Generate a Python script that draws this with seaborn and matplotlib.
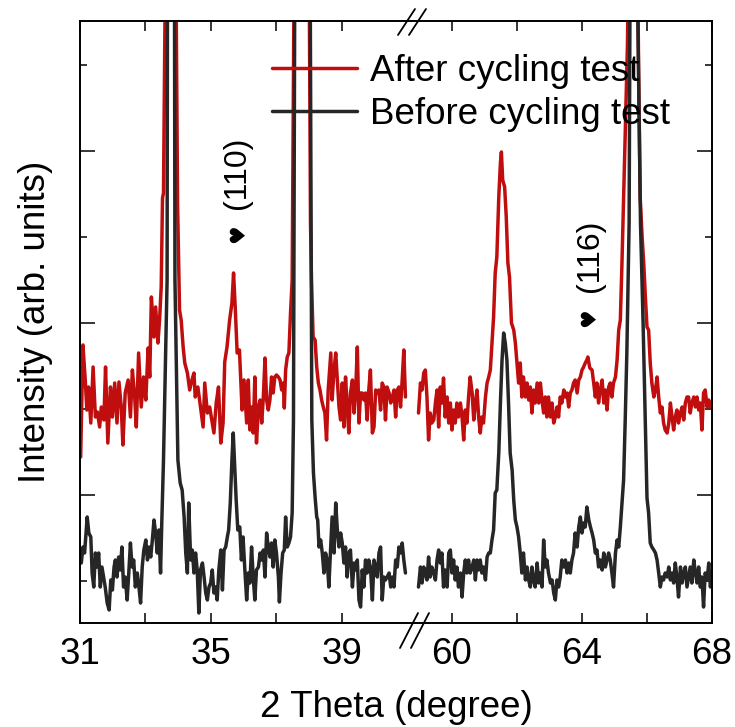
import numpy as np
import pandas as pd
import matplotlib
matplotlib.use("Agg")
import matplotlib.pyplot as plt
from matplotlib.lines import Line2D
from matplotlib.ticker import FixedLocator, NullFormatter
import seaborn as sns

# ---------------- data (2 theta in degree, intensity in arb. units) -------------
series_names = ["After cycling test", "Before cycling test"]
series_colors = ["#c00d0d", "#262626"]

# left segment (31 - 41 deg)
after_tt_left = [31.02, 31.09, 31.16, 31.21, 31.26, 31.33, 31.40, 31.47, 31.53, 31.60, 31.65, 31.73, 31.78, 31.85, 31.93, 31.99,
                 32.06, 32.13, 32.19, 32.26, 32.31, 32.38, 32.47, 32.54, 32.60, 32.67, 32.72, 32.79, 32.87, 32.94, 33.01, 33.08,
                 33.13, 33.18, 33.26, 33.31, 33.38, 33.43, 33.48, 33.52, 33.55, 33.62, 33.70, 33.77, 33.84, 33.92, 33.98, 34.04,
                 34.09, 34.15, 34.20, 34.28, 34.35, 34.42, 34.48, 34.52, 34.60, 34.68, 34.76, 34.81, 34.89, 34.96, 35.01, 35.09,
                 35.16, 35.23, 35.30, 35.37, 35.42, 35.49, 35.57, 35.64, 35.69, 35.74, 35.80, 35.87, 35.95, 36.01, 36.09, 36.14,
                 36.19, 36.24, 36.29, 36.34, 36.39, 36.45, 36.50, 36.55, 36.60, 36.65, 36.70, 36.75, 36.80, 36.85, 36.90, 36.95,
                 37.00, 37.06, 37.11, 37.16, 37.21, 37.24, 37.28, 37.33, 37.38, 37.43, 37.48, 37.50, 37.54, 37.65, 37.80, 37.95,
                 38.00, 38.04, 38.07, 38.12, 38.18, 38.23, 38.28, 38.33, 38.38, 38.43, 38.48, 38.53, 38.58, 38.63, 38.66, 38.70,
                 38.76, 38.81, 38.86, 38.91, 38.96, 39.01, 39.06, 39.11, 39.16, 39.21, 39.26, 39.32, 39.37, 39.42, 39.47, 39.52,
                 39.57, 39.62, 39.67, 39.72, 39.77, 39.82, 39.87, 39.93, 39.98, 40.03, 40.08, 40.13, 40.18, 40.23, 40.28, 40.33,
                 40.38, 40.44, 40.49, 40.54, 40.59, 40.64, 40.69, 40.74, 40.79, 40.84, 40.89, 40.94]
after_int_left = [166, 278, 243, 213, 236, 200, 256, 206, 211, 196, 216, 203, 256, 180, 236, 206,
                  240, 200, 241, 216, 178, 230, 243, 206, 253, 226, 196, 270, 216, 246, 223, 275,
                  246, 326, 286, 316, 280, 303, 336, 425, 430, 700, 1300, 1500, 1300, 700, 420, 313,
                  303, 276, 260, 250, 233, 243, 250, 226, 236, 216, 196, 240, 210, 216, 206, 190,
                  220, 236, 180, 200, 261, 276, 303, 320, 350, 316, 270, 273, 213, 243, 200, 243,
                  193, 216, 190, 246, 180, 216, 223, 200, 226, 265, 223, 213, 223, 246, 230, 246,
                  248, 246, 243, 233, 240, 215, 253, 266, 270, 310, 343, 450, 650, 1500, 2000, 1500,
                  650, 400, 343, 286, 283, 256, 240, 233, 223, 216, 210, 183, 233, 256, 270, 223,
                  253, 270, 243, 216, 203, 240, 196, 246, 216, 190, 230, 243, 210, 233, 276, 200,
                  230, 230, 223, 230, 203, 233, 253, 190, 196, 233, 230, 233, 213, 240, 236, 203,
                  236, 230, 220, 226, 233, 206, 233, 236, 216, 243, 273, 226]

before_tt_left = [31.04, 31.09, 31.14, 31.19, 31.22, 31.27, 31.33, 31.37, 31.42, 31.47, 31.52, 31.57, 31.62, 31.67, 31.72, 31.77,
                  31.83, 31.89, 31.94, 31.99, 32.04, 32.08, 32.13, 32.18, 32.23, 32.28, 32.33, 32.38, 32.44, 32.49, 32.54, 32.59,
                  32.64, 32.69, 32.75, 32.80, 32.85, 32.90, 32.95, 33.01, 33.06, 33.11, 33.16, 33.21, 33.26, 33.31, 33.36, 33.41,
                  33.46, 33.50, 33.55, 33.66, 33.77, 33.90, 33.99, 34.06, 34.12, 34.18, 34.23, 34.28, 34.32, 34.38, 34.43, 34.48,
                  34.53, 34.58, 34.63, 34.68, 34.74, 34.79, 34.84, 34.89, 34.94, 34.99, 35.04, 35.09, 35.14, 35.19, 35.24, 35.30,
                  35.35, 35.40, 35.45, 35.50, 35.54, 35.59, 35.64, 35.68, 35.72, 35.77, 35.82, 35.88, 35.93, 35.98, 36.03, 36.09,
                  36.14, 36.19, 36.24, 36.29, 36.34, 36.39, 36.45, 36.50, 36.55, 36.60, 36.65, 36.70, 36.75, 36.80, 36.85, 36.90,
                  36.95, 37.00, 37.06, 37.09, 37.14, 37.19, 37.24, 37.28, 37.33, 37.38, 37.43, 37.48, 37.52, 37.56, 37.64, 37.80,
                  37.96, 38.03, 38.08, 38.13, 38.18, 38.23, 38.26, 38.30, 38.35, 38.40, 38.45, 38.50, 38.55, 38.60, 38.65, 38.70,
                  38.76, 38.81, 38.86, 38.91, 38.96, 39.01, 39.06, 39.11, 39.16, 39.21, 39.26, 39.32, 39.37, 39.42, 39.47, 39.52,
                  39.57, 39.62, 39.67, 39.72, 39.77, 39.82, 39.87, 39.93, 39.98, 40.03, 40.08, 40.13, 40.18, 40.23, 40.28, 40.33,
                  40.38, 40.44, 40.49, 40.54, 40.59, 40.64, 40.69, 40.74, 40.79, 40.84, 40.89, 40.94]
before_int_left = [60, 76, 70, 93, 106, 90, 86, 50, 36, 70, 56, 70, 36, 56, 46, 36,
                   20, 13, 43, 33, 56, 63, 46, 66, 53, 76, 36, 46, 23, 50, 80, 56,
                   63, 36, 50, 36, 20, 56, 73, 83, 63, 76, 66, 83, 103, 90, 70, 93,
                   50, 103, 163, 343, 3000, 343, 163, 140, 133, 106, 70, 50, 120, 63, 73, 50,
                   70, 53, 10, 53, 60, 46, 30, 23, 36, 40, 53, 30, 36, 23, 53, 73,
                   33, 73, 76, 86, 93, 120, 163, 190, 160, 123, 93, 96, 63, 86, 56, 23,
                   50, 40, 76, 46, 23, 53, 56, 70, 63, 73, 46, 90, 76, 66, 80, 56,
                   83, 70, 46, 21, 50, 70, 73, 106, 76, 80, 86, 110, 203, 650, 1500, 2500,
                   1500, 650, 203, 150, 126, 106, 103, 76, 83, 70, 50, 70, 63, 36, 70, 106,
                   70, 120, 93, 76, 90, 80, 60, 76, 46, 70, 73, 36, 60, 53, 63, 23,
                   16, 53, 36, 63, 50, 63, 56, 23, 63, 56, 46, 70, 76, 23, 46, 43,
                   46, 50, 36, 46, 36, 63, 56, 76, 70, 80, 63, 50]

# right segment (59 - 68 deg)
after_tt_right = [58.97, 59.03, 59.08, 59.13, 59.18, 59.23, 59.28, 59.33, 59.38, 59.44, 59.49, 59.54, 59.59, 59.64, 59.69, 59.74,
                  59.79, 59.85, 59.90, 59.95, 60.00, 60.05, 60.10, 60.15, 60.20, 60.26, 60.31, 60.36, 60.41, 60.46, 60.51, 60.56,
                  60.62, 60.67, 60.72, 60.77, 60.82, 60.87, 60.92, 60.97, 61.03, 61.08, 61.13, 61.18, 61.23, 61.28, 61.33, 61.38,
                  61.44, 61.49, 61.52, 61.56, 61.62, 61.67, 61.72, 61.77, 61.83, 61.90, 61.95, 62.00, 62.05, 62.10, 62.15, 62.20,
                  62.26, 62.31, 62.36, 62.41, 62.46, 62.51, 62.56, 62.62, 62.67, 62.72, 62.77, 62.82, 62.87, 62.92, 62.97, 63.03,
                  63.08, 63.13, 63.18, 63.23, 63.28, 63.33, 63.38, 63.44, 63.49, 63.54, 63.59, 63.64, 63.69, 63.74, 63.79, 63.85,
                  63.90, 63.95, 64.00, 64.05, 64.10, 64.15, 64.18, 64.24, 64.31, 64.36, 64.41, 64.46, 64.51, 64.56, 64.62, 64.67,
                  64.72, 64.77, 64.82, 64.87, 64.92, 64.97, 65.03, 65.08, 65.13, 65.18, 65.23, 65.28, 65.33, 65.40, 65.44, 65.57,
                  65.70, 65.74, 65.79, 65.85, 65.90, 65.95, 66.00, 66.05, 66.10, 66.15, 66.21, 66.26, 66.31, 66.36, 66.41, 66.46,
                  66.51, 66.56, 66.62, 66.67, 66.72, 66.77, 66.82, 66.87, 66.92, 66.97, 67.03, 67.08, 67.13, 67.18, 67.23, 67.28,
                  67.33, 67.38, 67.44, 67.49, 67.54, 67.59, 67.64, 67.69, 67.74, 67.79, 67.85, 67.90, 67.95, 68.00]
after_int_right = [210, 240, 233, 250, 253, 226, 183, 210, 200, 203, 220, 233, 196, 236, 220, 245,
                   206, 226, 200, 220, 193, 213, 200, 220, 206, 220, 206, 183, 213, 200, 226, 246,
                   230, 203, 220, 233, 206, 190, 206, 200, 226, 240, 246, 253, 280, 306, 350, 366,
                   426, 460, 471, 443, 436, 406, 360, 346, 300, 293, 280, 260, 240, 260, 226, 246,
                   226, 240, 223, 236, 210, 233, 220, 240, 220, 240, 223, 210, 226, 206, 226, 206,
                   220, 200, 206, 216, 206, 226, 220, 233, 226, 230, 216, 230, 233, 240, 243, 230,
                   243, 246, 253, 256, 260, 263, 266, 255, 253, 240, 226, 240, 220, 233, 243, 220,
                   233, 213, 236, 240, 226, 240, 246, 263, 293, 303, 360, 426, 493, 580, 700, 1800,
                   700, 560, 426, 386, 360, 326, 296, 293, 260, 240, 226, 233, 246, 226, 210, 216,
                   200, 193, 190, 200, 220, 206, 193, 206, 213, 200, 210, 216, 203, 220, 226, 226,
                   210, 220, 226, 216, 226, 213, 220, 193, 230, 233, 216, 223, 216, 220]

before_tt_right = [58.97, 59.03, 59.08, 59.13, 59.18, 59.23, 59.28, 59.33, 59.38, 59.44, 59.49, 59.54, 59.59, 59.64, 59.69, 59.74,
                   59.79, 59.85, 59.90, 59.95, 60.00, 60.05, 60.10, 60.15, 60.20, 60.26, 60.31, 60.36, 60.41, 60.46, 60.51, 60.56,
                   60.62, 60.67, 60.72, 60.77, 60.82, 60.87, 60.92, 60.97, 61.03, 61.08, 61.13, 61.18, 61.23, 61.28, 61.33, 61.38,
                   61.44, 61.49, 61.54, 61.59, 61.64, 61.69, 61.74, 61.79, 61.85, 61.90, 61.95, 62.00, 62.05, 62.10, 62.15, 62.20,
                   62.26, 62.31, 62.36, 62.41, 62.46, 62.51, 62.56, 62.62, 62.67, 62.72, 62.77, 62.82, 62.87, 62.92, 62.97, 63.03,
                   63.08, 63.13, 63.18, 63.23, 63.28, 63.33, 63.38, 63.44, 63.49, 63.54, 63.59, 63.64, 63.69, 63.74, 63.79, 63.85,
                   63.90, 63.95, 64.00, 64.05, 64.10, 64.15, 64.21, 64.26, 64.31, 64.36, 64.41, 64.46, 64.51, 64.56, 64.62, 64.67,
                   64.72, 64.77, 64.82, 64.87, 64.92, 64.97, 65.03, 65.08, 65.13, 65.18, 65.23, 65.28, 65.33, 65.38, 65.45, 65.48,
                   65.58, 65.70, 65.80, 65.88, 65.95, 66.00, 66.05, 66.10, 66.15, 66.21, 66.26, 66.31, 66.36, 66.41, 66.46, 66.51,
                   66.56, 66.62, 66.67, 66.72, 66.77, 66.82, 66.87, 66.92, 66.97, 67.03, 67.08, 67.13, 67.18, 67.23, 67.28, 67.33,
                   67.38, 67.44, 67.49, 67.54, 67.59, 67.64, 67.69, 67.74, 67.79, 67.85, 67.90, 67.95, 68.00]
before_int_right = [36, 56, 40, 56, 50, 43, 66, 46, 56, 50, 43, 63, 73, 60, 70, 36,
                    53, 36, 70, 73, 50, 63, 43, 56, 36, 50, 26, 50, 63, 50, 63, 50,
                    56, 63, 43, 63, 53, 63, 50, 56, 43, 66, 70, 70, 83, 93, 130, 133,
                    170, 220, 263, 290, 280, 263, 220, 170, 153, 123, 103, 96, 86, 70, 50, 70,
                    43, 56, 43, 36, 56, 43, 36, 60, 40, 50, 36, 83, 56, 63, 50, 40,
                    43, 30, 23, 43, 36, 46, 63, 56, 63, 50, 60, 50, 63, 70, 90, 76,
                    96, 106, 90, 100, 96, 116, 103, 96, 90, 83, 70, 73, 56, 63, 53, 70,
                    56, 63, 70, 63, 50, 36, 70, 83, 76, 96, 120, 143, 203, 270, 400, 650,
                    2500, 650, 400, 300, 200, 125, 110, 80, 76, 73, 70, 63, 50, 36, 46, 43,
                    50, 46, 56, 43, 50, 40, 60, 46, 26, 56, 40, 50, 56, 36, 46, 56,
                    40, 63, 50, 40, 56, 36, 46, 16, 50, 43, 60, 36, 46]

# annotations: (label, 2theta, intensity)
peak_labels = ["(110)", "(116)"]
peak_label_tt = [35.79, 64.25]
peak_label_int = [450, 367]
heart_tt = [35.82, 64.22]
heart_int = [389, 305]

x_major_left, x_minor_left = [31, 35, 39], [33, 37]
x_major_right, x_minor_right = [60, 64, 68], [62, 66]

# ---------------- figure ----------------
sns.set_theme(style="ticks")
plt.rcParams["font.family"] = ["Liberation Sans", "DejaVu Sans"]
plt.rcParams["text.color"] = "black"
plt.rcParams["axes.labelcolor"] = "black"
plt.rcParams["xtick.color"] = "black"
plt.rcParams["ytick.color"] = "black"
plt.rcParams["axes.linewidth"] = 1.4

W, H = 735, 727
fig = plt.figure(figsize=(W / 100, H / 100), dpi=100)
fig.patch.set_facecolor("white")
ax_l = fig.add_axes([80 / W, 104 / H, 332 / W, 602 / H])
ax_r = fig.add_axes([412 / W, 104 / H, 300 / W, 602 / H])

def draw(ax, tt_a, in_a, tt_b, in_b):
    da = pd.DataFrame({"tt": tt_a, "I": in_a})
    db = pd.DataFrame({"tt": tt_b, "I": in_b})
    sns.lineplot(data=da, x="tt", y="I", ax=ax, color=series_colors[0], linewidth=2.5,
                 estimator=None, sort=False, label=series_names[0], legend=False)
    sns.lineplot(data=db, x="tt", y="I", ax=ax, color=series_colors[1], linewidth=2.5,
                 estimator=None, sort=False, label=series_names[1], legend=False)

draw(ax_l, after_tt_left, after_int_left, before_tt_left, before_int_left)
draw(ax_r, after_tt_right, after_int_right, before_tt_right, before_int_right)

ax_l.set_xlim(31, 41.14)
ax_r.set_xlim(58.77, 68)
for ax in (ax_l, ax_r):
    ax.set_ylim(0, 602)
    ax.set_xlabel("")
    ax.set_ylabel("")
    ax.yaxis.set_major_locator(FixedLocator([128, 300, 472]))
    ax.yaxis.set_minor_locator(FixedLocator([42, 214, 386, 558]))
    ax.yaxis.set_major_formatter(NullFormatter())
    ax.yaxis.set_minor_formatter(NullFormatter())
    ax.tick_params(axis="x", which="both", direction="in", top=True, bottom=True,
                   length=7.5, width=1.1, labelsize=26.5, pad=10, colors="black")
    ax.tick_params(axis="y", which="major", direction="in", length=10.5, width=1.1, colors="black")
    ax.tick_params(axis="y", which="minor", direction="in", length=5, width=1.1, colors="black")
    for s in ax.spines.values():
        s.set_color("black")
        s.set_linewidth(1.4)

ax_l.set_xticks(x_major_left)
ax_l.set_xticks(x_minor_left, minor=True)
ax_r.set_xticks(x_major_right)
ax_r.set_xticks(x_minor_right, minor=True)
ax_l.spines["right"].set_visible(False)
ax_r.spines["left"].set_visible(False)
ax_l.tick_params(axis="y", which="both", left=True, right=False, labelleft=False)
ax_r.tick_params(axis="y", which="both", left=False, right=True, labelleft=False, labelright=False)

# peak annotations
for lab, t, i in zip(peak_labels, peak_label_tt, peak_label_int):
    ax = ax_l if t < 50 else ax_r
    ax.text(t, i, lab, rotation=90, ha="center", va="center", fontsize=23, color="black")
for t, i in zip(heart_tt, heart_int):
    ax = ax_l if t < 50 else ax_r
    ax.text(t, i, "\u2665", rotation=90, ha="center", va="center", fontsize=15,
            color="black", family=["DejaVu Sans"])

# axis break marks (figure pixel coordinates)
def fig_line(x0, y0, x1, y1):
    fig.add_artist(Line2D([x0 / W, x1 / W], [1 - y0 / H, 1 - y1 / H], transform=fig.transFigure,
                          color="black", linewidth=1.3))
fig_line(398, 35, 415, 9)
fig_line(409, 35, 426, 9)
fig_line(400, 648, 418, 613)
fig_line(411, 648, 429, 613)

# axis labels
fig.text(396 / W, 1 - 717 / H, "2 Theta (degree)", ha="center", va="baseline", fontsize=26.5, color="black")
fig.text(36 / W, 1 - 322 / H, "Intensity (arb. units)", rotation=90, ha="center", va="center",
         fontsize=26.5, color="black")

# legend
handles, labels = ax_l.get_legend_handles_labels()
leg = fig.legend(handles, labels, loc="center left", bbox_to_anchor=(272 / W, 1 - 93 / H),
                 frameon=False, fontsize=26.5, handlelength=2.3, handletextpad=0.35,
                 labelspacing=0.2, borderpad=0, borderaxespad=0)
for t in leg.get_texts():
    t.set_color("black")

fig.savefig("out.png", dpi=100, facecolor="white")
